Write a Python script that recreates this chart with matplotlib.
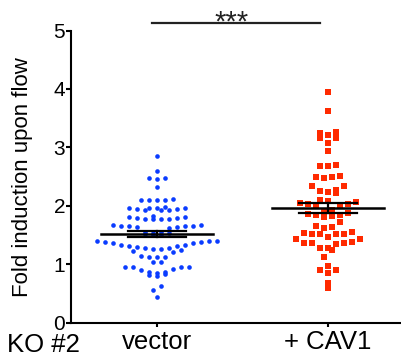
#!/usr/bin/env python3
"""Scatter dot plot (mean +/- SEM) of fold induction upon flow, vector vs CAV1."""

import numpy as np
import matplotlib

matplotlib.use("Agg")
import matplotlib.pyplot as plt

plt.rcParams["font.family"] = ["Liberation Sans", "DejaVu Sans"]

groups = ["vector", "+ CAV1"]
colors = ["#0a3cff", "#ff2a00"]
markers = ["o", "s"]

vector_vals = [
    2.85, 2.59, 2.48, 2.47, 2.46, 2.33,
    2.12, 2.11, 2.10, 2.10, 2.11,
    1.99, 1.97, 1.96, 1.95, 1.94, 1.93, 1.94, 1.95, 1.96, 1.97,
    1.83, 1.81, 1.79, 1.78, 1.77, 1.77, 1.78, 1.79, 1.81,
    1.68, 1.66, 1.65, 1.64, 1.63, 1.64, 1.65, 1.66, 1.68,
    1.56, 1.55, 1.54, 1.53, 1.52, 1.51, 1.50,
    1.40, 1.38, 1.36, 1.33, 1.32, 1.29, 1.40, 1.39, 1.29, 1.30, 1.32, 1.33, 1.36, 1.40,
    1.25, 1.22, 1.26, 1.26, 1.23,
    1.13, 1.12, 1.13, 1.14, 1.04, 1.04,
    0.95, 0.90, 0.88, 0.96, 0.96, 0.96, 0.93, 0.88,
    0.84, 0.81, 0.82, 0.85,
    0.63, 0.56, 0.44,
]

cav1_vals = [
    3.95, 3.62,
    3.27, 3.22, 3.17, 3.17, 3.25, 3.08, 2.94,
    2.70, 2.69, 2.68,
    2.50, 2.51, 2.47, 2.50,
    2.35, 2.35,
    2.27, 2.24, 2.22, 2.26,
    2.11, 2.09,
    2.06, 2.05, 2.04, 2.03, 2.02, 2.01,
    1.93, 1.92,
    1.87, 1.85, 1.83, 1.82, 1.84, 1.88,
    1.72,
    1.64, 1.62, 1.66,
    1.54, 1.52, 1.37, 1.52, 1.37, 1.43, 1.43, 1.47, 1.35, 1.25,
    1.52, 1.37, 1.52, 1.38, 1.56,
    1.28, 1.28,
    1.12,
    0.97, 0.91, 0.85, 0.91,
    0.69, 0.60,
]

y_ticks = [0, 1, 2, 3, 4, 5]


def spread(vals, bw, dx):
    """Prism-like layout: bin values into rows, fan each row out from the centre."""
    vals = np.sort(np.asarray(vals, dtype=float))
    rows = np.floor(vals / bw).astype(int)
    xs = np.zeros_like(vals)
    for r in np.unique(rows):
        idx = np.where(rows == r)[0]
        n = len(idx)
        if n % 2:
            order = [0] + [s * k for k in range(1, n // 2 + 1) for s in (-1, 1)]
        else:
            order = [s * (k - 0.5) for k in range(1, n // 2 + 1) for s in (-1, 1)]
        xs[idx] = np.array(order[:n]) * dx
    return xs, vals


fig = plt.figure(figsize=(4.01, 3.58), dpi=100)
ax = fig.add_axes([0.1783, 0.0978, 0.853, 0.817])

for i, (vals, col, mk) in enumerate(zip([vector_vals, cav1_vals], colors, markers)):
    if mk == "o":
        xs, ys = spread(vals, 0.14, 0.047)
        ax.scatter(i + xs, ys, s=11, marker="o", color=col, linewidths=0, zorder=2)
    else:
        xs, ys = spread(vals, 0.16, 0.047)
        ax.scatter(i + xs, ys, s=19, marker="s", color=col, linewidths=0, zorder=2)

    m = np.mean(vals)
    sem = np.std(vals, ddof=1) / np.sqrt(len(vals))
    ax.plot([i - 0.33, i + 0.33], [m, m], color="black", lw=1.8, zorder=3)
    for e in (m - sem, m + sem):
        ax.plot([i - 0.17, i + 0.17], [e, e], color="black", lw=1.6, zorder=3)
    ax.plot([i, i], [m - sem, m + sem], color="black", lw=1.6, zorder=3)

# significance bar
ax.plot([-0.03, 0.955], [5.13, 5.13], color="#222222", lw=1.6, clip_on=False)
ax.text(0.433, 5.0, "***", ha="center", va="baseline", fontsize=21,
        color="#222222", clip_on=False)

ax.set_xlim(-0.5, 1.5)
ax.set_ylim(0, 5)
ax.set_xticks([0, 1])
ax.set_xticklabels(groups, fontsize=18.5)
ax.set_yticks(y_ticks)
ax.set_yticklabels([str(t) for t in y_ticks], fontsize=15)
ax.set_ylabel("Fold induction upon flow", fontsize=16, labelpad=15)

for side in ("top", "right"):
    ax.spines[side].set_visible(False)
for side in ("left", "bottom"):
    ax.spines[side].set_linewidth(1.5)
ax.tick_params(axis="y", length=3.5, width=1.5, pad=1)
ax.tick_params(axis="x", length=3, width=1.5, pad=2)

fig.text(0.018, 0.016, "KO #2", fontsize=18.5, ha="left", va="baseline")

fig.savefig("out.png", dpi=100)
